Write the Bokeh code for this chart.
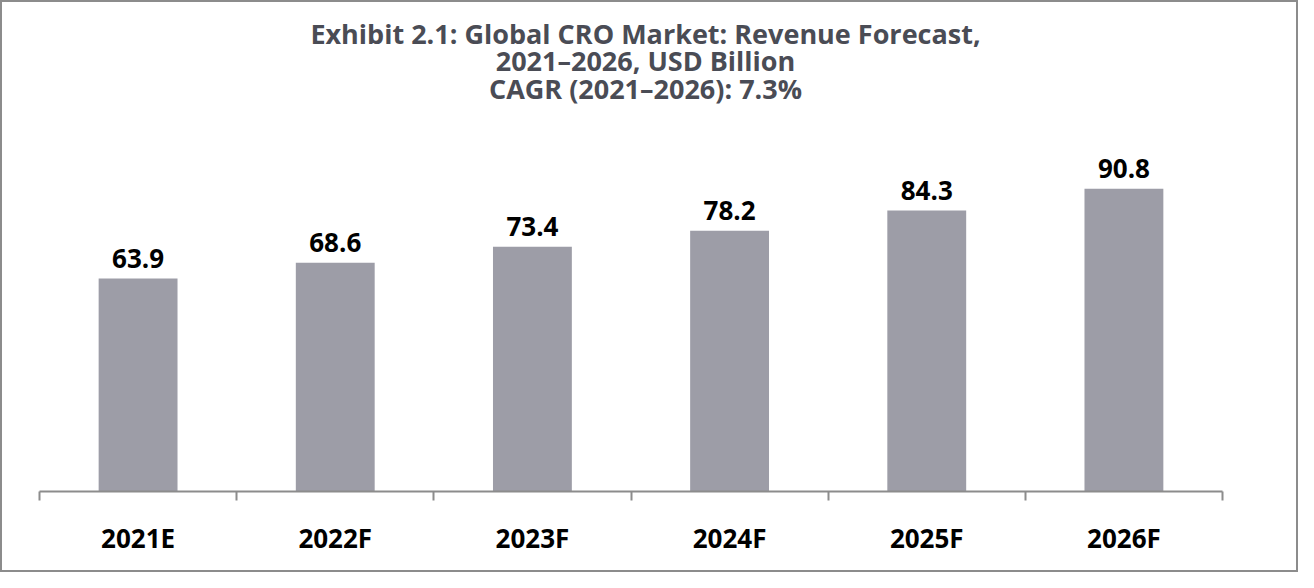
from bokeh.plotting import figure
from bokeh.models import ColumnDataSource, Range1d, FixedTicker, Label, LinearAxis
from bokeh.core.properties import value
from bokeh.embed import file_html
from bokeh.resources import INLINE

categories = ["2021E", "2022F", "2023F", "2024F", "2025F", "2026F"]
revenue = [63.9, 68.6, 73.4, 78.2, 84.3, 90.8]
title_lines = ["Exhibit 2.1: Global CRO Market: Revenue Forecast,",
               "2021\u20132026, USD Billion",
               "CAGR (2021\u20132026): 7.3%"]

FONT = "Open Sans"
xs = [i + 0.5 for i in range(len(categories))]
src = ColumnDataSource(dict(x=xs, top=revenue, cat=categories,
                            lbl=[f"{v:.1f}" for v in revenue]))

H, BOTTOM = 572, 83
PX_PER_UNIT = 3.333
y_end = (H - BOTTOM) / PX_PER_UNIT

p = figure(width=1298, height=H, output_backend="svg", toolbar_location=None,
           x_range=Range1d(0, len(categories)), y_range=Range1d(0, y_end),
           x_axis_location=None, y_axis_location=None,
           min_border_left=37, min_border_right=78, min_border_top=0, min_border_bottom=BOTTOM)
p.styles = {"border": "2px solid #8c8c8c"}
p.grid.visible = False
p.outline_line_color = None
p.background_fill_color = "white"
p.border_fill_color = "white"

p.vbar(x="x", top="top", width=0.4, bottom=0, source=src,
       fill_color="#9d9da7", line_color=None)
p.text(x="x", y="top", text="lbl", source=src, text_align="center",
       text_baseline="alphabetic", y_offset=-20,
       text_font=value(FONT), text_font_style="bold", text_font_size="26px",
       text_color="black")

ax = LinearAxis()
ax.ticker = FixedTicker(ticks=xs, minor_ticks=list(range(len(categories) + 1)))
ax.major_label_overrides = {x: c for x, c in zip(xs, categories)}
ax.major_tick_line_color = None
ax.minor_tick_in = 0
ax.minor_tick_out = 9
ax.minor_tick_line_color = "#8c8c8c"
ax.minor_tick_line_width = 2
ax.axis_line_color = "#8c8c8c"
ax.axis_line_width = 2
ax.major_label_standoff = 19
ax.major_label_text_font = FONT
ax.major_label_text_font_style = "bold"
ax.major_label_text_font_size = "26px"
ax.major_label_text_color = "black"
p.add_layout(ax, "below")

title_y = [458, 431, 403]
for t, yy in zip(title_lines, title_y):
    p.add_layout(Label(x=606, y=yy, x_units="screen", y_units="screen", text=t,
                       text_align="center", text_baseline="middle",
                       text_font=FONT, text_font_style="bold", text_font_size="27px",
                       text_color="#4a4c55"))

open("out.html", "w").write(file_html(p, INLINE))
